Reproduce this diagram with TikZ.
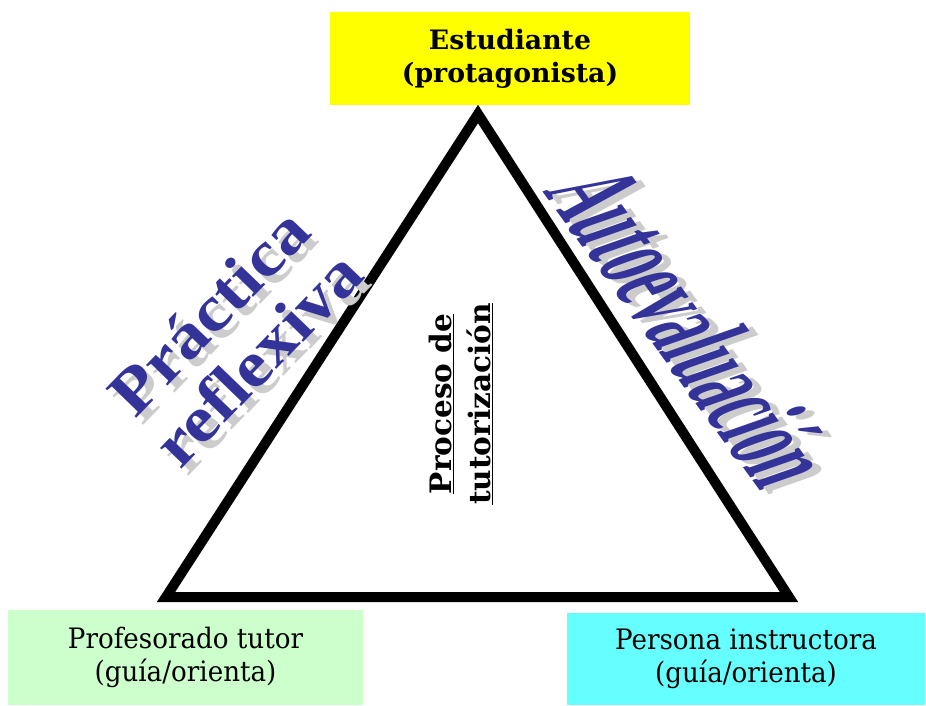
\documentclass[tikz,border=0pt]{standalone}
\usepackage{fontspec}
\setmainfont{DejaVu Serif}[FakeStretch=0.93]
\newfontfamily\headfont{DejaVu Serif}
\newfontfamily\artfont{Liberation Serif}

\definecolor{artblue}{HTML}{333399}
\definecolor{artshadow}{HTML}{CCCCCC}
\definecolor{boxyellow}{HTML}{FFFF00}
\definecolor{boxgreen}{HTML}{CCFFCC}
\definecolor{boxcyan}{HTML}{66FFFF}

\tikzset{
  rolebox/.style={inner sep=0pt,align=center,font=\fontsize{20}{23.4}\selectfont},
  arttext/.style={inner sep=0pt,align=center,text=artblue},
  artshade/.style={arttext,text=artshadow}
}

\begin{document}
\begin{tikzpicture}[x=0.025cm,y=-0.025cm]
\useasboundingbox (0,0) rectangle (926,705);

% triangle
\coordinate (top) at (478,114);
\coordinate (left) at (166,597);
\coordinate (right) at (789,597);
\draw[line width=7.1pt,line join=miter] (top) -- (left) -- (right) -- cycle;

% the three roles
\node[rolebox,fill=boxyellow,minimum width=9cm,minimum height=2.325cm,
  font=\headfont\bfseries\fontsize{19}{23.4}\selectfont](student) at (510,58.5) {Estudiante\\(protagonista)};
\node[rolebox,fill=boxgreen,minimum width=8.875cm,minimum height=2.375cm](tutor) at (185.5,657.5) {Profesorado tutor\\(guía/orienta)};
\node[rolebox,fill=boxcyan,minimum width=8.95cm,minimum height=2.3cm](instructor) at (746,659) {Persona instructora\\(guía/orienta)};

% centre
\node[rotate=90,align=center,inner sep=0pt,font=\headfont\bfseries\fontsize{21}{27.6}\selectfont](process) at (461,404) {\underline{Proceso de}\\\underline{tutorización}};

% sides
\node[artshade,rotate=46,font=\artfont\bfseries\fontsize{46}{48}\selectfont](practiceshadow) at (240,342) {\scalebox{1.12}[1]{Práctica}\\\scalebox{1.12}[1]{reflexiva}};
\node[arttext,rotate=46,font=\artfont\bfseries\fontsize{46}{48}\selectfont](practice) at (233,335) {\scalebox{1.12}[1]{Práctica}\\\scalebox{1.12}[1]{reflexiva}};
\node[artshade,rotate=-54,xslant=0.3,font=\artfont\bfseries\fontsize{88}{88}\selectfont](selfevalshadow) at (702,331) {\scalebox{0.45}[1]{Autoevaluación}};
\node[arttext,rotate=-54,xslant=0.3,font=\artfont\bfseries\fontsize{88}{88}\selectfont](selfeval) at (693,327) {\scalebox{0.45}[1]{Autoevaluación}};
\end{tikzpicture}
\end{document}
